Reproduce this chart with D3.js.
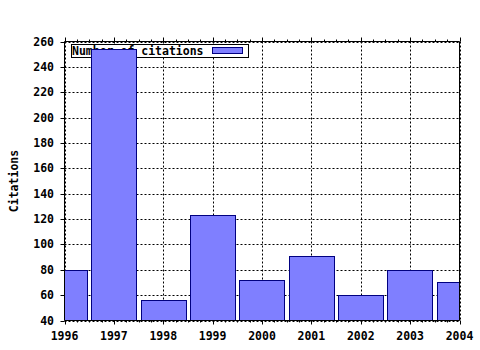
<!DOCTYPE html>
<html><head><meta charset="utf-8">
<script src="https://cdn.jsdelivr.net/npm/d3@7"></script>
<style>body{margin:0;background:#fff}text{font-family:"DejaVu Sans Mono",monospace;font-weight:bold;font-size:11.5px;fill:#000}</style>
</head><body><svg id="c" width="480" height="350"></svg>
<script>
const years = [1996,1997,1998,1999,2000,2001,2002,2003,2004];
const citations = [80,254,56,123,72,91,60,80,70];
const yTicks = [40,60,80,100,120,140,160,180,200,220,240,260];
const seriesName = "Number of citations";
const yTitle = "Citations";

const svg = d3.select("#c");
const L=64.5, R=459.5, T=41.5, B=320.5;
const x = d3.scaleLinear().domain([1996,2004]).range([L,R]);
const y = d3.scaleLinear().domain([40,260]).range([B,T]);
const bw = (x(1997)-x(1996))*0.92;

svg.append("defs").append("clipPath").attr("id","clip")
  .append("rect").attr("x",L).attr("y",T).attr("width",R-L).attr("height",B-T);

// grid
const g = svg.append("g").attr("stroke","#000").attr("stroke-dasharray","2,2").attr("stroke-width",1);
yTicks.forEach(v=>g.append("line").attr("x1",L).attr("x2",R).attr("y1",Math.round(y(v))+0.5).attr("y2",Math.round(y(v))+0.5));
years.forEach(v=>g.append("line").attr("y1",T).attr("y2",B).attr("x1",Math.round(x(v))+0.5).attr("x2",Math.round(x(v))+0.5));

// legend (drawn beneath the bars)
const lg = svg.append("g");
lg.append("rect").attr("x",71.5).attr("y",44.5).attr("width",177).attr("height",13).attr("fill","#fff").attr("stroke","#000");
lg.append("text").attr("x",72).attr("y",55).text(seriesName);
lg.append("rect").attr("x",212.5).attr("y",47.5).attr("width",30).attr("height",6).attr("fill","#7f7fff").attr("stroke","#000080");

// bars
svg.append("g").attr("clip-path","url(#clip)").selectAll("rect").data(years).join("rect")
  .attr("x",d=>Math.round(x(d)-bw/2)+0.5)
  .attr("width",Math.round(bw))
  .attr("y",(d,i)=>Math.round(y(citations[i]))+0.5)
  .attr("height",(d,i)=>B-Math.round(y(citations[i]))-0.5)
  .attr("fill","#7f7fff").attr("stroke","#000080");

// frame lines
const ax = svg.append("g").attr("stroke","#000").attr("stroke-width",1);
ax.append("line").attr("x1",L).attr("x2",R).attr("y1",B).attr("y2",B);
ax.append("line").attr("x1",L).attr("x2",R).attr("y1",T).attr("y2",T);
ax.append("line").attr("x1",L).attr("x2",L).attr("y1",T).attr("y2",B);
ax.append("line").attr("x1",R).attr("x2",R).attr("y1",T).attr("y2",B);

// x ticks
const minor = d3.range(1996,2004.01,0.25);
minor.forEach(v=>{
  const major = Math.abs(v-Math.round(v))<1e-6;
  const px = Math.round(x(v))+0.5;
  const len = major?4:2;
  ax.append("line").attr("x1",px).attr("x2",px).attr("y1",B).attr("y2",B+len);
  ax.append("line").attr("x1",px).attr("x2",px).attr("y1",T).attr("y2",T-len);
});
yTicks.forEach(v=>{
  const py = Math.round(y(v))+0.5;
  ax.append("line").attr("x1",L-4).attr("x2",L).attr("y1",py).attr("y2",py);
});

// labels
svg.append("g").selectAll("text").data(years).join("text")
  .attr("x",d=>x(d)).attr("y",340).attr("text-anchor","middle").text(d=>d);
svg.append("g").selectAll("text").data(yTicks).join("text")
  .attr("x",54).attr("y",d=>y(d)+4).attr("text-anchor","end").text(d=>d);
svg.append("text").attr("transform","translate(18,181) rotate(-90)").attr("text-anchor","middle").text(yTitle);
</script></body></html>
